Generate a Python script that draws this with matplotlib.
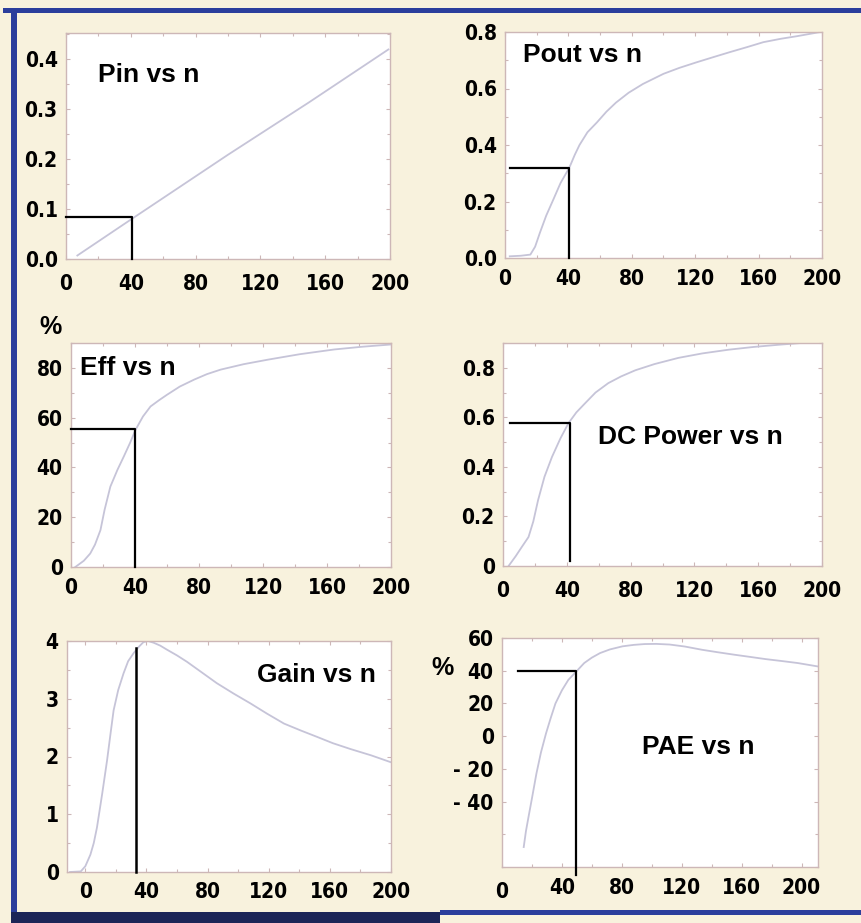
import matplotlib
matplotlib.use("Agg")
import matplotlib.pyplot as plt
from matplotlib.patches import Rectangle
from matplotlib.ticker import MultipleLocator
from matplotlib import font_manager

# --- data ---
pin_n = [7, 40, 100, 150, 199]
pin_y = [0.007, 0.079, 0.209, 0.314, 0.42]
pin_mark = (41, 0.085)

pout_n = [3, 10, 16, 19, 22, 26, 30.5, 35, 40.6, 44, 47, 52, 58, 64, 70, 78, 87, 100, 110,
          121, 132, 142, 153, 163, 174, 184, 199]
pout_y = [0.006, 0.008, 0.012, 0.04, 0.089, 0.15, 0.207, 0.265, 0.32, 0.365, 0.40, 0.445,
          0.48, 0.518, 0.55, 0.585, 0.616, 0.652, 0.673, 0.693, 0.712, 0.729, 0.747, 0.764,
          0.776, 0.785, 0.80]
pout_mark = (40.6, 0.32)

eff_n = [2.7, 8, 12, 15, 18.4, 21, 24.6, 29, 33, 37, 40.3, 45, 49.7, 55, 60, 68, 77, 85,
         93.5, 108, 123, 143, 164.5, 182, 200]
eff_y = [0, 2.5, 5.4, 9, 14.8, 23, 32.3, 39, 44.4, 50, 55.1, 60.5, 64.5, 67, 69.2, 72.5,
         75.3, 77.5, 79.3, 81.5, 83.3, 85.5, 87.4, 88.5, 89.4]
eff_mark = (40.3, 55.3)

dc_n = [3.5, 8, 11.8, 16, 19, 22, 26, 30.7, 36, 41, 46, 51.5, 58, 66, 74, 83, 95, 110,
        125, 141.5, 157, 173, 187, 199]
dc_y = [0, 0.04, 0.077, 0.117, 0.18, 0.266, 0.36, 0.44, 0.515, 0.576, 0.62, 0.657, 0.70,
        0.738, 0.765, 0.79, 0.815, 0.84, 0.858, 0.873, 0.884, 0.893, 0.90, 0.905]
dc_mark = (42.2, 0.576)

gain_n = [-10, -3, 0, 3.3, 5.5, 7.6, 11, 14.2, 16.5, 18.5, 21.5, 25, 28, 31.6, 35, 38, 41,
          44.7, 49, 53.4, 60, 66.5, 76, 86, 97, 108, 119, 130, 141, 151.6, 162, 173.4, 187, 200]
gain_y = [0, 0.01, 0.1, 0.3, 0.5, 0.77, 1.35, 1.93, 2.4, 2.8, 3.15, 3.44, 3.65, 3.79, 3.9,
          3.98, 4.0, 3.97, 3.92, 3.85, 3.75, 3.64, 3.46, 3.27, 3.09, 2.92, 2.74, 2.57, 2.45,
          2.34, 2.23, 2.13, 2.02, 1.9]
gain_mark = (33.3, 3.88)

pae_n = [14.5, 16, 17.7, 20, 23, 26, 29.4, 32.5, 35.7, 40, 44.3, 49.6, 54.9, 60, 65.5, 72,
         80.4, 88, 95.3, 103, 112, 122, 133.6, 144, 155, 166, 176, 187, 197.4, 211]
pae_y = [-67.8, -58, -49.4, -38, -22.8, -10, 1.7, 11, 20, 28, 34.4, 39.5, 44.7, 48, 50.8,
         53, 54.9, 55.8, 56.3, 56.4, 56, 54.8, 52.8, 51.3, 49.8, 48.4, 47.1, 45.9, 44.7, 42.6]
pae_mark = (49.6, 40)

x_ticks = [0, 40, 80, 120, 160, 200]
pin_yticks = [0.0, 0.1, 0.2, 0.3, 0.4]
pout_yticks = [0.0, 0.2, 0.4, 0.6, 0.8]
eff_yticks = [0, 20, 40, 60, 80]
dc_yticks = [0, 0.2, 0.4, 0.6, 0.8]
gain_yticks = [0, 1, 2, 3, 4]
pae_yticks = [-40, -20, 0, 20, 40, 60]
pae_ylabels = ["- 40", "- 20", "0", "20", "40", "60"]

W, H = 861, 923
BG = "#f8f2dd"
CURVE = "#c6c4d8"
FRAME = "#cdb7b7"
BLUE = "#2b3e9c"

# narrow bold digits like the scan, if a condensed face is around
fonts = font_manager.fontManager.ttflist
has_condensed = any(f.name == "DejaVu Sans" and f.stretch == "condensed" and f.weight == 700
                    for f in fonts)
tick_font = dict(family=["DejaVu Sans"], stretch="condensed", size=15, weight="bold") \
    if has_condensed else dict(family=["Liberation Sans"], size=15, weight="bold")
title_family = ["Liberation Sans", "DejaVu Sans"]

fig = plt.figure(figsize=(W / 100, H / 100), dpi=100, facecolor=BG)


def box(l, r, t, b):
    return [l / W, 1 - b / H, (r - l) / W, (b - t) / H]


def style_labels(labels):
    for lab in labels:
        lab.set_fontproperties(font_manager.FontProperties(**tick_font))


def setup(ax, xlim, ylim, yticks, ylabels=None, xminor=20, yminor=None, xpad=9):
    ax.set_xlim(*xlim)
    ax.set_ylim(*ylim)
    ax.set_xticks(x_ticks)
    ax.set_yticks(yticks, ylabels if ylabels else None)
    ax.xaxis.set_minor_locator(MultipleLocator(xminor))
    if yminor:
        ax.yaxis.set_minor_locator(MultipleLocator(yminor))
    ax.tick_params(which="both", direction="in", top=True, right=True, color=FRAME, width=0.8)
    ax.tick_params(which="major", length=3)
    ax.tick_params(which="minor", length=2)
    ax.tick_params(axis="x", pad=xpad)
    ax.tick_params(axis="y", pad=6)
    style_labels(ax.get_xticklabels() + ax.get_yticklabels())
    for sp in ax.spines.values():
        sp.set_color(FRAME)
        sp.set_linewidth(1.0)
    ax.set_facecolor("white")


def marker(ax, mark, x0, y0, horizontal=True):
    xm, ym = mark
    if horizontal:
        ax.plot([x0, xm, xm], [ym, ym, y0], color="black", lw=1.6, clip_on=False, zorder=3)
    else:
        ax.plot([xm, xm], [y0, ym], color="black", lw=1.8, clip_on=False, zorder=3)


def title(ax, s, x, y):
    ax.text(x, y, s, transform=ax.transAxes, ha="left", va="center",
            fontsize=19, fontweight="bold", family=title_family)


# Pin vs n
ax1 = fig.add_axes(box(66, 390, 33, 259))
ax1.plot(pin_n, pin_y, color=CURVE, lw=1.3)
setup(ax1, (0, 200), (0, 0.453), pin_yticks, ["0.0", "0.1", "0.2", "0.3", "0.4"], yminor=0.05, xpad=11)
marker(ax1, pin_mark, 0, 0)
title(ax1, "Pin vs n", 0.099, 0.814)

# Pout vs n
ax2 = fig.add_axes(box(505, 822, 32, 258))
ax2.plot(pout_n, pout_y, color=CURVE, lw=1.3)
setup(ax2, (0, 200), (0, 0.8), pout_yticks, ["0.0", "0.2", "0.4", "0.6", "0.8"], yminor=0.1, xpad=8)
marker(ax2, pout_mark, 3, 0)
title(ax2, "Pout vs n", 0.057, 0.898)

# Eff vs n
ax3 = fig.add_axes(box(71, 391, 343, 567))
ax3.plot(eff_n, eff_y, color=CURVE, lw=1.3)
setup(ax3, (0, 200), (0, 90), eff_yticks, yminor=10, xpad=8)
marker(ax3, eff_mark, 0, 0)
title(ax3, "Eff vs n", 0.028, 0.888)

# DC Power vs n
ax4 = fig.add_axes(box(503, 822, 343, 566))
ax4.plot(dc_n, dc_y, color=CURVE, lw=1.3)
setup(ax4, (0, 200), (0, 0.9), dc_yticks, ["0", "0.2", "0.4", "0.6", "0.8"], yminor=0.1, xpad=11)
marker(ax4, dc_mark, 4.6, 0.02)
title(ax4, "DC Power vs n", 0.298, 0.578)

# Gain vs n
ax5 = fig.add_axes(box(67, 391, 641, 872))
ax5.plot(gain_n, gain_y, color=CURVE, lw=1.3)
setup(ax5, (-12, 200), (0, 4), gain_yticks, yminor=0.5, xpad=7)
marker(ax5, gain_mark, 0, 0, horizontal=False)
title(ax5, "Gain vs n", 0.586, 0.853)

# PAE vs n
ax6 = fig.add_axes(box(502, 818, 638, 867))
ax6.plot(pae_n, pae_y, color=CURVE, lw=1.3)
setup(ax6, (9, 211), (-80, 60), pae_yticks, pae_ylabels, yminor=20, xpad=8)
ax6.set_xticks(x_ticks[1:])
style_labels(ax6.get_xticklabels())
zero = ax6.annotate("0", xy=(0, 0), xycoords=("data", "axes fraction"), xytext=(0, -11),
                    textcoords="offset points", ha="center", va="top", annotation_clip=False)
zero.set_fontproperties(font_manager.FontProperties(**tick_font))
marker(ax6, pae_mark, 11, -85)
title(ax6, "PAE vs n", 0.443, 0.524)

# percent signs
fig.text(50 / W, 1 - 327 / H, "%", ha="center", va="center", fontsize=18,
         fontweight="bold", family=title_family)
fig.text(443 / W, 1 - 668 / H, "%", ha="center", va="center", fontsize=18,
         fontweight="bold", family=title_family)

# page frame from the scan
fig.add_artist(Rectangle((3 / W, 1 - 13 / H), 858 / W, 5 / H, transform=fig.transFigure,
                         color=BLUE, lw=0))
fig.add_artist(Rectangle((11 / W, 1 - 918 / H), 6 / W, 910 / H, transform=fig.transFigure,
                         color=BLUE, lw=0))
fig.add_artist(Rectangle((440 / W, 1 - 915 / H), 421 / W, 5 / H, transform=fig.transFigure,
                         color=BLUE, lw=0))
fig.add_artist(Rectangle((11 / W, 0), 429 / W, 11 / H, transform=fig.transFigure,
                         color="#1c2557", lw=0))

fig.savefig("out.png", dpi=100, facecolor=BG)
